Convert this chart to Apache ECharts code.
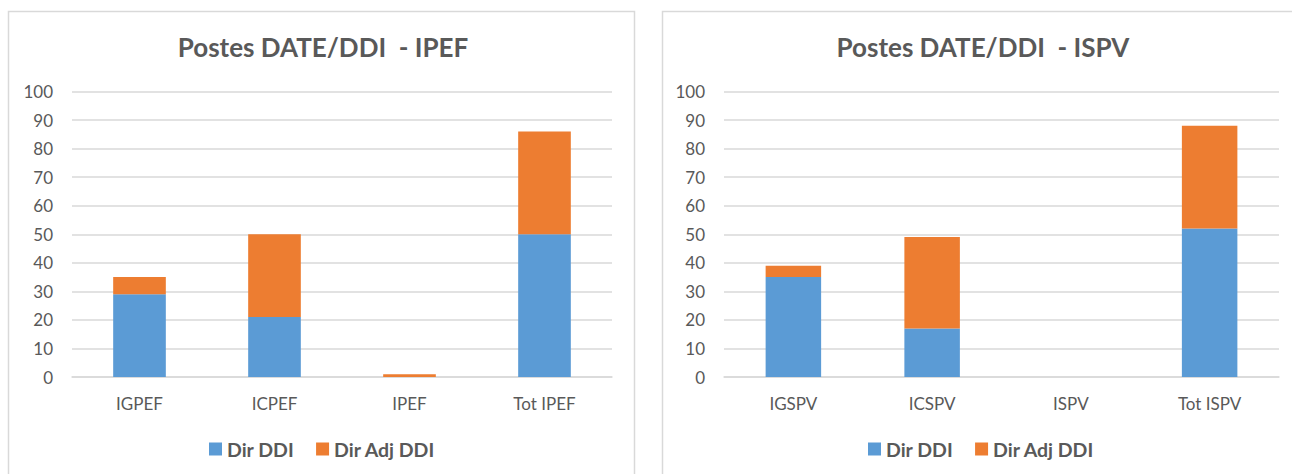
<!DOCTYPE html>
<html>
<head>
<meta charset="utf-8">
<title>Postes DATE/DDI</title>
<script src="https://cdn.jsdelivr.net/npm/echarts@6/dist/echarts.min.js"></script>
<style>
  html, body { margin: 0; padding: 0; background: #ffffff; }
  #chart { width: 1292px; height: 474px; }
</style>
</head>
<body>
<div id="chart"></div>
<script>
// Category labels for each panel
const categoriesIPEF = ['IGPEF', 'ICPEF', 'IPEF', 'Tot IPEF'];
const categoriesISPV = ['IGSPV', 'ICSPV', 'ISPV', 'Tot ISPV'];

// Series names
const seriesNames = ['Dir DDI', 'Dir Adj DDI'];

// Number of posts per category
const dirDdiIPEF    = [29, 21, 0, 50];
const dirAdjDdiIPEF = [6, 29, 1, 36];
const dirDdiISPV    = [35, 17, 0, 52];
const dirAdjDdiISPV = [4, 32, 0, 36];

// Panel titles
const titleIPEF = 'Postes DATE/DDI  - IPEF';
const titleISPV = 'Postes DATE/DDI  - ISPV';

const BLUE = '#5B9BD5';
const ORANGE = '#ED7D31';
const TEXT = '#595959';
const GRID = '#d9d9d9';
const FONT = 'Lato, "Open Sans", sans-serif';

function yAxis(gridIndex) {
  return {
    type: 'value', gridIndex: gridIndex, min: 0, max: 100, interval: 10,
    axisLine: { show: false }, axisTick: { show: false },
    axisLabel: { color: TEXT, fontSize: 17, fontFamily: FONT, margin: 19 },
    splitLine: { lineStyle: { color: GRID, width: 1.5 } }
  };
}
function xAxis(gridIndex, cats) {
  return {
    type: 'category', gridIndex: gridIndex, data: cats,
    axisLine: { lineStyle: { color: GRID, width: 1.5 } },
    axisTick: { show: false },
    axisLabel: { color: TEXT, fontSize: 17, fontFamily: FONT, margin: 18 }
  };
}
function legend(left) {
  return {
    data: seriesNames, left: left, top: 439, padding: 0,
    itemWidth: 13, itemHeight: 13, itemGap: 22, icon: 'rect',
    textStyle: { color: TEXT, fontSize: 19.5, fontWeight: 'bold', fontFamily: FONT }
  };
}
function title(text, center) {
  return {
    text: text, left: center, top: 47, padding: 0,
    textAlign: 'center', textVerticalAlign: 'middle',
    textStyle: { color: TEXT, fontSize: 26, fontWeight: 'bold', fontFamily: FONT }
  };
}
function bars(name, data, axisIndex, color, width) {
  return {
    name: name, type: 'bar', stack: 'total' + axisIndex,
    xAxisIndex: axisIndex, yAxisIndex: axisIndex,
    barWidth: width, data: data, itemStyle: { color: color },
    emphasis: { disabled: true }
  };
}

const chart = echarts.init(document.getElementById('chart'), null, { renderer: 'svg' });
chart.setOption({
  animation: false,
  color: [BLUE, ORANGE],
  title: [title(titleIPEF, 323), title(titleISPV, 983)],
  legend: [legend(209), legend(868)],
  grid: [
    { left: 72, right: 680, top: 91.5, bottom: 97 },
    { left: 724, right: 13, top: 91.5, bottom: 97 }
  ],
  xAxis: [xAxis(0, categoriesIPEF), xAxis(1, categoriesISPV)],
  yAxis: [yAxis(0), yAxis(1)],
  graphic: [
    { type: 'rect', shape: { x: 8.5, y: 11.5, width: 626, height: 520 },
      style: { fill: 'none', stroke: GRID, lineWidth: 1.5 }, silent: true },
    { type: 'rect', shape: { x: 662.5, y: 11.5, width: 700, height: 520 },
      style: { fill: 'none', stroke: GRID, lineWidth: 1.5 }, silent: true }
  ],
  series: [
    bars(seriesNames[0], dirDdiIPEF, 0, BLUE, '39%'),
    bars(seriesNames[1], dirAdjDdiIPEF, 0, ORANGE, '39%'),
    bars(seriesNames[0], dirDdiISPV, 1, BLUE, '40%'),
    bars(seriesNames[1], dirAdjDdiISPV, 1, ORANGE, '40%')
  ]
});
</script>
</body>
</html>
